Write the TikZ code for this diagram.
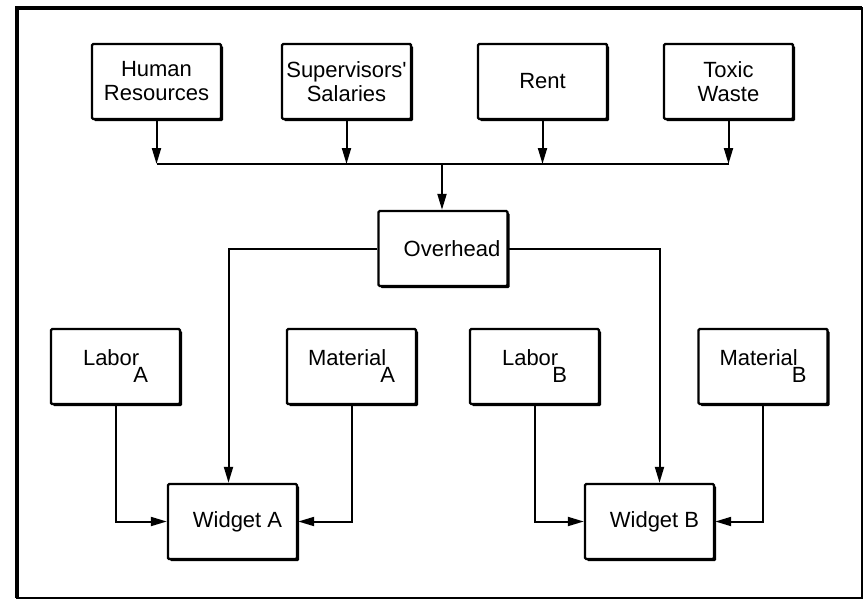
\documentclass[tikz,border=0pt]{standalone}
\usepackage{fontspec}
\setmainfont{Liberation Sans}
\usetikzlibrary{arrows.meta,shadows}
\newcommand{\subsc}[2]{#1\kern-3pt\raisebox{-8.5pt}{#2}}

\begin{document}
\begin{tikzpicture}[x=0.5pt, y=-0.5pt,
  font=\fontsize{11pt}{12pt}\selectfont,
  costbox/.style={draw, line width=1.2pt, fill=white, rounded corners=0.6pt,
    minimum width=64.5pt, minimum height=37.5pt, align=center, inner sep=1pt,
    drop shadow={shadow xshift=1pt, shadow yshift=-1pt, fill=black, opacity=1}},
  wire/.style={line width=1pt},
  flow/.style={wire, -{Triangle[length=8pt,width=4.5pt]}}]
\useasboundingbox (0,0) rectangle (867,600);
% frame
\draw[line width=0.6pt] (17,8) rectangle (862,598);
\draw[line width=2.4pt] (17,598) -- (17,8) -- (862,8);
% cost sources
\node[costbox] (hr) at (156.5,81.5) {Human\\Resources};
\node[costbox] (salaries) at (346.5,81.5) {Supervisors\textquotesingle\\Salaries};
\node[costbox] (rent) at (542.5,81.5) {Rent};
\node[costbox] (waste) at (728.5,81.5) {Toxic\\Waste};
\coordinate (bus) at (442,164);
\node[costbox] (overhead) at (443,248.5) {\hspace*{9pt}Overhead};
% direct costs
\node[costbox] (laborA) at (115.5,366.5) {\subsc{Labor}{A}};
\node[costbox] (materialA) at (351.5,366.5) {\subsc{Material}{A}};
\node[costbox] (laborB) at (534.5,366.5) {\subsc{Labor}{B}};
\node[costbox] (materialB) at (763,366.5) {\subsc{Material}{B}};
\node[costbox] (widgetA) at (232.5,521.5) {\hspace*{5pt}Widget A};
\node[costbox] (widgetB) at (649.5,521.5) {\hspace*{5pt}Widget B};
% connectors
\foreach \n in {hr,salaries,rent,waste}
  \draw[flow] (\n) -- (\n |- bus);
\draw[wire] (hr |- bus) -- (waste |- bus);
\draw[flow] (bus) -- (bus |- overhead.north);
\draw[flow] (overhead.west) -| ([xshift=-2pt]widgetA.north);
\draw[flow] (overhead.east) -| ([xshift=5pt]widgetB.north);
\draw[flow] (laborA) |- (widgetA);
\draw[flow] (materialA) |- (widgetA);
\draw[flow] (laborB) |- (widgetB);
\draw[flow] (materialB) |- (widgetB);
\end{tikzpicture}
\end{document}
